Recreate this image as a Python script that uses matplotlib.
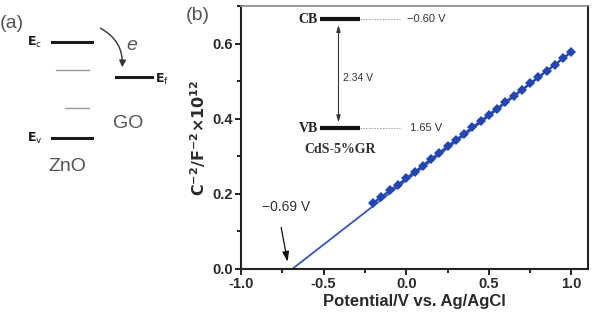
import matplotlib
matplotlib.use("Agg")
import matplotlib.pyplot as plt
from matplotlib.patches import FancyArrowPatch
from matplotlib.ticker import MultipleLocator

plt.rcParams['font.family'] = ['Liberation Sans', 'DejaVu Sans']

# ---- data ----
potential = [-0.2, -0.15, -0.1, -0.05, 0.0, 0.05, 0.1, 0.15, 0.2, 0.25, 0.3, 0.35,
             0.4, 0.45, 0.5, 0.55, 0.6, 0.65, 0.7, 0.75, 0.8, 0.85, 0.9, 0.95, 1.0]
c_minus2 = [0.176, 0.192, 0.209, 0.224, 0.242, 0.258, 0.275, 0.293, 0.309, 0.327, 0.343, 0.360,
            0.377, 0.393, 0.411, 0.427, 0.444, 0.461, 0.477, 0.494, 0.511, 0.527, 0.544, 0.561, 0.578]
fit_x = [-0.69, 1.0]
fit_y = [0.0, 0.578]
xticks = [-1.0, -0.5, 0.0, 0.5, 1.0]
yticks = [0.0, 0.2, 0.4, 0.6]
cb_level = 0.665
vb_level = 0.375

W, H = 596, 319
fig = plt.figure(figsize=(W / 100, H / 100), dpi=100)

def fx(px):
    return px / W

def fy(py):
    return 1 - py / H

# ---- panel (a): schematic ----
dark = '#1a1a1a'
gray = '#555555'
fig.text(fx(0), fy(23), '(a)', fontsize=14, color=gray, ha='left', va='center')
# Ec line
fig.add_artist(plt.Line2D([fx(52), fx(92)], [fy(42), fy(42)], color=dark, lw=2.2))
fig.text(fx(27), fy(42), r'$\mathbf{E}_{\mathrm{c}}$', fontsize=9, color=dark, ha='left', va='center')
# gray intermediate levels
fig.add_artist(plt.Line2D([fx(56), fx(89)], [fy(70), fy(70)], color='#9a9a9a', lw=1.0))
fig.add_artist(plt.Line2D([fx(65), fx(89)], [fy(108), fy(108)], color='#9a9a9a', lw=1.0))
# Ev line
fig.add_artist(plt.Line2D([fx(52), fx(92)], [fy(138), fy(138)], color=dark, lw=2.2))
fig.text(fx(27), fy(138), r'$\mathbf{E}_{\mathrm{v}}$', fontsize=9, color=dark, ha='left', va='center')
fig.text(fx(67), fy(166), 'ZnO', fontsize=14, color=gray, ha='center', va='center')
# Ef line (GO)
fig.add_artist(plt.Line2D([fx(116), fx(152)], [fy(77), fy(77)], color=dark, lw=2.2))
fig.text(fx(155), fy(79), r'$\mathbf{E}_{\mathrm{f}}$', fontsize=9, color=dark, ha='left', va='center')
fig.text(fx(128), fy(123), 'GO', fontsize=14, color=gray, ha='center', va='center')
fig.text(fx(132), fy(45), 'e', fontsize=14, color=gray, style='italic', ha='center', va='center')
arr = FancyArrowPatch((fx(98), fy(27)), (fx(122), fy(70)), transform=fig.transFigure,
                      connectionstyle='arc3,rad=-0.35', arrowstyle='-|>,head_length=4,head_width=2',
                      color='#333333', lw=1.0)
fig.add_artist(arr)

# ---- panel (b) ----
fig.text(fx(198), fy(15), '(b)', fontsize=14, color=gray, ha='center', va='center')
ax = fig.add_axes([fx(241), fy(269), fx(588) - fx(241), fy(6) - fy(269)])
ax.plot(fit_x, fit_y, color='#3a56b8', lw=1.3, zorder=2)
ax.plot(potential, c_minus2, color='#2446b0', lw=1.6, marker='D', markersize=5.5,
        markeredgewidth=0, zorder=3)
ax.set_xlim(-1.0, 1.1)
ax.set_ylim(0.0, 0.7)
ax.set_xticks(xticks)
ax.set_yticks(yticks)
ax.set_xticklabels(['%.1f' % v for v in xticks])
ax.set_yticklabels(['%.1f' % v for v in yticks])
ax.xaxis.set_minor_locator(MultipleLocator(0.25))
ax.yaxis.set_minor_locator(MultipleLocator(0.1))
ax.tick_params(which='both', direction='out', width=1.4, color='#222222', top=False, right=False)
ax.tick_params(which='major', length=4, labelsize=10.5, pad=2, labelcolor='#2a2a2a')
ax.tick_params(which='minor', length=3)
for lbl in ax.get_xticklabels() + ax.get_yticklabels():
    lbl.set_fontweight('bold')
for sp in ax.spines.values():
    sp.set_linewidth(1.5)
    sp.set_color('#222222')
ax.spines['top'].set_color('#888888')
ax.spines['top'].set_linewidth(1.2)
ax.set_xlabel('Potential/V vs. Ag/AgCl', fontsize=12, fontweight='bold', color='#2a2a2a', labelpad=2)
ax.set_ylabel(r'$\mathbf{C^{-2}/F^{-2}{\times}10^{12}}$', fontsize=11.5, color='#2a2a2a', labelpad=3)

# -0.69 V annotation
ax.text(-0.87, 0.166, '\u22120.69 V', fontsize=10, color='#333333', ha='left', va='center')
ax.annotate('', xy=(-0.715, 0.012), xytext=(-0.76, 0.118),
            arrowprops=dict(arrowstyle='-|>,head_length=0.6,head_width=0.2', color='#111111', lw=0.9))

# inset energy levels
serif = ['Liberation Serif', 'DejaVu Serif']
ax.plot([-0.52, -0.28], [cb_level, cb_level], color='#111111', lw=3.0, solid_capstyle='butt')
ax.plot([-0.52, -0.28], [vb_level, vb_level], color='#111111', lw=3.0, solid_capstyle='butt')
ax.plot([-0.28, -0.035], [cb_level, cb_level], color='#aaaaaa', lw=0.8, ls=(0, (1.5, 1)))
ax.plot([-0.28, -0.035], [vb_level, vb_level], color='#aaaaaa', lw=0.8, ls=(0, (1.5, 1)))
ax.text(-0.535, cb_level, 'CB', fontsize=10, family=serif, fontweight='bold', color='#222222',
        ha='right', va='center')
ax.text(-0.535, vb_level, 'VB', fontsize=10, family=serif, fontweight='bold', color='#222222',
        ha='right', va='center')
ax.text(-0.40, 0.318, 'CdS-5%GR', fontsize=10, family=serif, fontweight='bold', color='#333333',
        ha='center', va='center')
ax.annotate('', xy=(-0.41, vb_level + 0.008), xytext=(-0.41, cb_level - 0.008),
            arrowprops=dict(arrowstyle='<|-|>,head_length=0.4,head_width=0.12', color='#333333', lw=0.8))
ax.text(-0.385, 0.508, '2.34 V', fontsize=7.5, color='#333333', ha='left', va='center')
ax.text(0.005, cb_level, '\u22120.60 V', fontsize=8, color='#333333', ha='left', va='center')
ax.text(0.02, vb_level, '1.65 V', fontsize=8, color='#333333', ha='left', va='center')

fig.savefig('out.png', dpi=100)
